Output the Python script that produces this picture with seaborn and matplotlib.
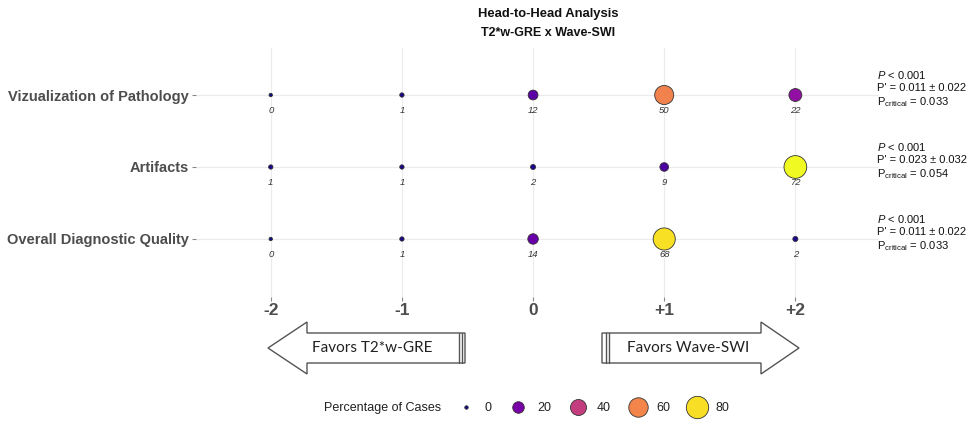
import numpy as np
import pandas as pd
import matplotlib
matplotlib.use("Agg")
import matplotlib.pyplot as plt
import seaborn as sns
from matplotlib.lines import Line2D
from matplotlib.patches import Polygon
from matplotlib import transforms, font_manager

# ---------------- data ----------------
categories = ["Vizualization of Pathology", "Artifacts", "Overall Diagnostic Quality"]
scores = [-2, -1, 0, 1, 2]
score_labels = ["-2", "-1", "0", "+1", "+2"]
viz_counts = [0, 1, 12, 50, 22]
art_counts = [1, 1, 2, 9, 72]
odq_counts = [0, 1, 14, 68, 2]
p_values = ["< 0.001", "< 0.001", "< 0.001"]
p_prime = ["0.011 ± 0.022", "0.023 ± 0.032", "0.011 ± 0.022"]
p_critical = ["0.033", "0.054", "0.033"]
legend_values = [0, 20, 40, 60, 80]
legend_title = "Percentage of Cases"
title = "Head-to-Head Analysis"
subtitle = "T2*w-GRE x Wave-SWI"
left_arrow_text = "Favors T2*w-GRE"
right_arrow_text = "Favors Wave-SWI"

rows = []
for ci, (cat, vals) in enumerate(zip(categories, [viz_counts, art_counts, odq_counts])):
    for s, v in zip(scores, vals):
        rows.append({"category": cat, "row": ci, "score": s, "count": v})
df = pd.DataFrame(rows)

# ---------------- style ----------------
sns.set_theme(style="white")
avail = {f.name for f in font_manager.fontManager.ttflist}
narrow = "Liberation Sans Narrow" if "Liberation Sans Narrow" in avail else "Liberation Sans"
plt.rcParams["font.family"] = ["Liberation Sans", "DejaVu Sans"]
plt.rcParams["mathtext.fontset"] = "custom"
plt.rcParams["mathtext.rm"] = "Liberation Sans"
plt.rcParams["mathtext.it"] = "Liberation Sans:italic"
plt.rcParams["mathtext.bf"] = "Liberation Sans:bold"

W, H = 974, 424
fig = plt.figure(figsize=(W / 100, H / 100), dpi=100)
ax_left, ax_right, ax_top, ax_bot = 196, 878, 48, 297
ax = fig.add_axes([ax_left / W, 1 - ax_bot / H, (ax_right - ax_left) / W, (ax_bot - ax_top) / H])

sns.scatterplot(data=df, x="score", y="row", hue="count", size="count",
                palette="plasma", hue_norm=(0, 72), sizes=(6, 268), size_norm=(0, 72),
                edgecolor="#333333", linewidth=0.6, legend=False, ax=ax, zorder=3)

ax.set_xlim(-2.57, 2.63)
ax.set_ylim(2 + 0.806, -0.653)
ax.set_xticks(scores)
ax.set_xticklabels(score_labels, fontsize=12.5, fontweight="bold", color="#4d4d4d")
ax.set_yticks(range(len(categories)))
ax.set_yticklabels(categories, fontsize=10.5, fontweight="bold", color="#4d4d4d")
ax.tick_params(axis="both", length=3, width=0.8, color="#888888", pad=2, bottom=True, left=True)
ax.tick_params(axis="x", pad=1)
ax.set_xlabel("")
ax.set_ylabel("")
for sp in ax.spines.values():
    sp.set_visible(False)
ax.grid(True, color="#ebebeb", linewidth=0.8, zorder=0)
ax.set_axisbelow(True)

# count labels
for _, r in df.iterrows():
    ax.text(r["score"], r["row"] + 0.21, str(r["count"]), ha="center", va="center",
            fontsize=6.8, style="italic", color="#333333", zorder=4)

# right side statistics
blend = transforms.blended_transform_factory(fig.transFigure, ax.transData)
for ci in range(len(categories)):
    x0 = 877 / W
    ax.text(x0, ci - 0.28, r"$\it{P}$ " + p_values[ci], transform=blend, fontsize=8,
            va="center", ha="left", color="#111111", clip_on=False)
    ax.text(x0, ci - 0.095, "P' = " + p_prime[ci], transform=blend, fontsize=8,
            va="center", ha="left", color="#111111", clip_on=False)
    ax.text(x0, ci + 0.095, r"P$_{\mathrm{critical}}$ = " + p_critical[ci], transform=blend,
            fontsize=8, va="center", ha="left", color="#111111", clip_on=False)

# titles
px = transforms.Affine2D().scale(1 / W, -1 / H).translate(0, 1) + fig.transFigure
fig.text(548, 14, title, transform=px, ha="center", va="center", fontsize=9.4,
         fontweight="bold", family=[narrow, "DejaVu Sans"], color="#111111")
fig.text(548, 33, subtitle, transform=px, ha="center", va="center", fontsize=9.0,
         fontweight="bold", family=[narrow, "DejaVu Sans"], color="#111111")

# arrows
def draw_arrow(tail, base, tip, stripes):
    cy, sh, hh = 348, 15, 26
    pts = [(tip, cy), (base, cy - hh), (base, cy - sh), (tail, cy - sh),
           (tail, cy + sh), (base, cy + sh), (base, cy + hh)]
    fig.patches.append(Polygon(pts, closed=True, transform=px, facecolor="white",
                               edgecolor="#555555", linewidth=1.0))
    for sx in stripes:
        fig.lines.append(Line2D([sx, sx], [cy - sh, cy + sh], transform=px,
                                color="#555555", linewidth=1.0))

draw_arrow(465, 307, 268, [458.5, 461.5])
draw_arrow(602, 761, 799, [605.5, 608.5])
fig.text(372, 348, left_arrow_text, transform=px, ha="center", va="center",
         fontsize=11, family=["Lato", "DejaVu Sans"], color="#222222")
fig.text(688, 348, right_arrow_text, transform=px, ha="center", va="center",
         fontsize=11, family=["Lato", "DejaVu Sans"], color="#222222")

# legend
cmap = plt.get_cmap("plasma")
handles = []
for v in legend_values:
    d_px = np.sqrt(12 + (529 - 12) * v / 85)
    handles.append(Line2D([], [], linestyle="none", marker="o", markersize=d_px * 0.72,
                          markerfacecolor=cmap(v / 85), markeredgecolor="#333333",
                          markeredgewidth=0.6))
fig.text(383, 408, legend_title, transform=px, ha="center", va="center",
         fontsize=9, color="#222222")
leg = fig.legend(handles, [str(v) for v in legend_values], ncol=5, frameon=False,
                 loc="center", bbox_to_anchor=(594 / W, 1 - 408 / H), fontsize=9,
                 handletextpad=0.9, columnspacing=1.55, handlelength=1.2)
for t in leg.get_texts():
    t.set_color("#222222")

fig.savefig("out.png", dpi=100, facecolor="white")
